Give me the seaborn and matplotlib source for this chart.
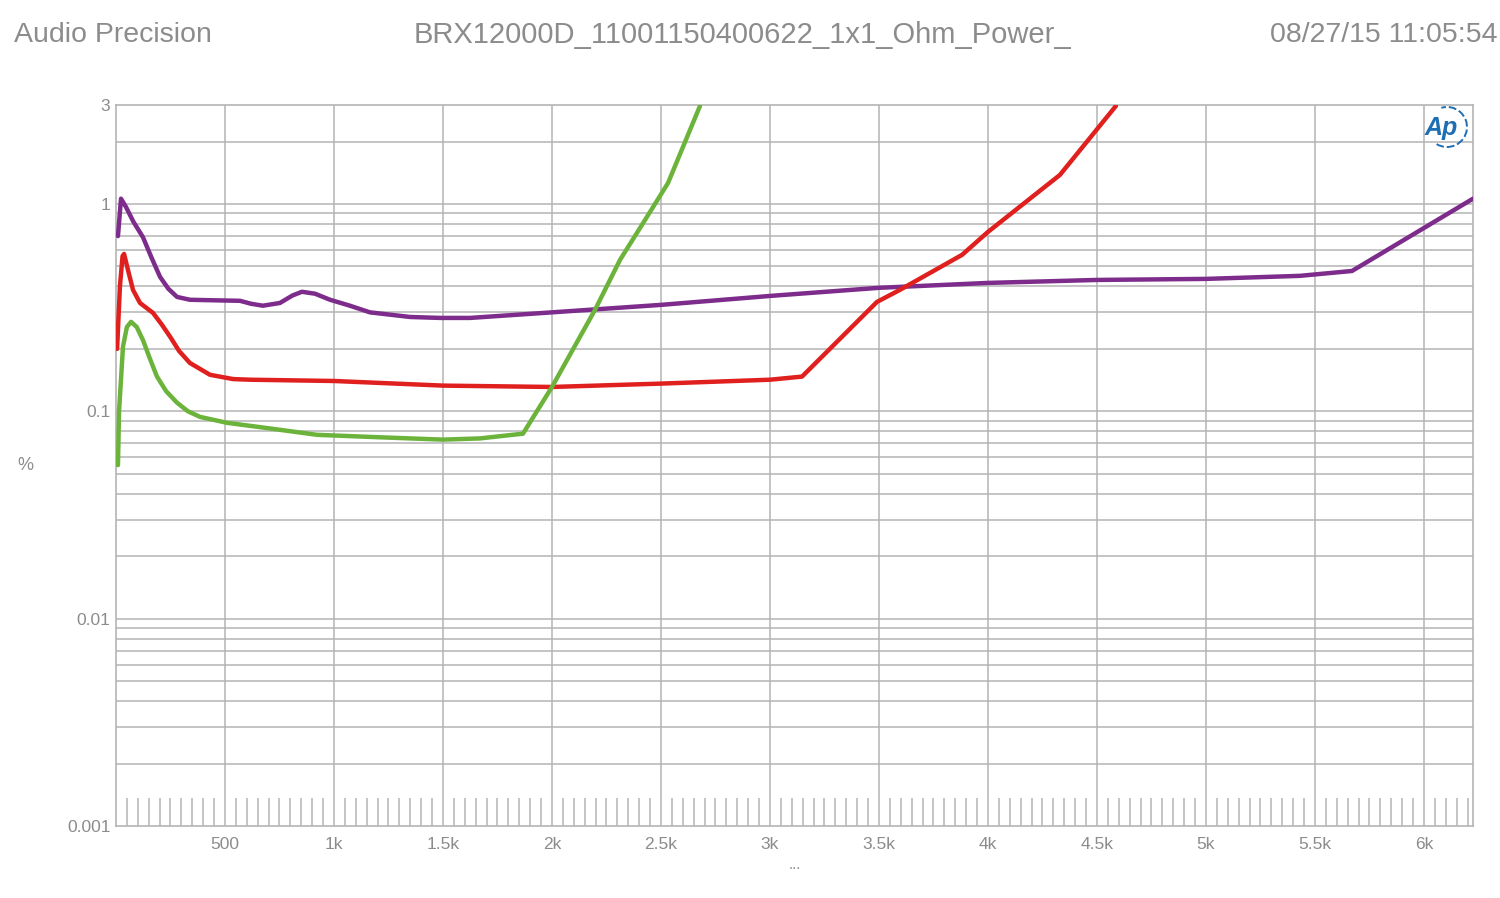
import numpy as np
import pandas as pd
import matplotlib
matplotlib.use("Agg")
import matplotlib.pyplot as plt
from matplotlib.patches import Arc
import seaborn as sns

# values (x = output power, y = THD+N in %)
purple_x = [9, 23, 45, 80, 124, 160, 202, 240, 280, 339, 450, 569, 620, 674,
            752, 810, 853, 913, 982, 1073, 1165, 1349, 1486, 1624, 2000, 2500,
            3000, 3500, 4000, 4500, 5000, 5431, 5670, 6225]
purple_y = [0.70, 1.06, 0.97, 0.82, 0.69, 0.56, 0.445, 0.39, 0.356, 0.345,
            0.343, 0.341, 0.33, 0.323, 0.333, 0.362, 0.377, 0.369, 0.345, 0.323,
            0.30, 0.285, 0.282, 0.282, 0.30, 0.326, 0.36, 0.394, 0.416, 0.43,
            0.435, 0.45, 0.475, 1.06]

red_x = [5, 18, 30, 37, 55, 78, 110, 170, 210, 248, 290, 339, 431, 537, 615,
         1000, 1500, 2000, 2500, 3000, 3147, 3491, 3596, 3881, 4000, 4330, 4587]
red_y = [0.20, 0.40, 0.56, 0.574, 0.48, 0.385, 0.333, 0.298, 0.262, 0.229,
         0.195, 0.171, 0.15, 0.143, 0.142, 0.14, 0.133, 0.131, 0.136, 0.142,
         0.147, 0.337, 0.385, 0.568, 0.733, 1.38, 2.97]

green_x = [9, 14, 32, 50, 69, 95, 124, 155, 188, 230, 280, 330, 385, 509, 693,
           922, 1200, 1500, 1670, 1867, 2000, 2197, 2312, 2404, 2532, 2679]
green_y = [0.055, 0.10, 0.205, 0.255, 0.27, 0.255, 0.22, 0.18, 0.147, 0.125,
           0.11, 0.10, 0.094, 0.088, 0.083, 0.077, 0.075, 0.073, 0.074, 0.078,
           0.131, 0.308, 0.537, 0.766, 1.26, 2.97]

x_ticks = [500, 1000, 1500, 2000, 2500, 3000, 3500, 4000, 4500, 5000, 5500, 6000]
x_tick_labels = ["500", "1k", "1.5k", "2k", "2.5k", "3k", "3.5k", "4k", "4.5k",
                 "5k", "5.5k", "6k"]
y_ticks = [0.001, 0.01, 0.1, 1, 3]
y_tick_labels = ["0.001", "0.01", "0.1", "1", "3"]

sns.set_theme(style="white")
plt.rcParams['font.family'] = ['Liberation Sans', 'DejaVu Sans']

df = pd.concat([
    pd.DataFrame({"power": purple_x, "thd": purple_y, "ch": "purple"}),
    pd.DataFrame({"power": red_x, "thd": red_y, "ch": "red"}),
    pd.DataFrame({"power": green_x, "thd": green_y, "ch": "green"}),
])
palette = {"purple": "#7d2c8c", "red": "#e0201e", "green": "#6cb33c"}

grey = "#8c8c8c"
grid_c = "#b4b4b4"

fig = plt.figure(figsize=(15, 8.98), dpi=100)
ax = fig.add_axes([116 / 1500, 1 - 826 / 898, (1473 - 116) / 1500, (826 - 105) / 898])

ax.set_yscale("log")
ax.set_xlim(0, 6225)
ax.set_ylim(0.001, 3)

sns.lineplot(data=df, x="power", y="thd", hue="ch", palette=palette,
             sort=False, estimator=None, legend=False, linewidth=3.2, ax=ax,
             zorder=3)

# grid: vertical at every 500, horizontal at every log minor step
for xv in x_ticks:
    ax.axvline(xv, color=grid_c, lw=1.1, zorder=1)
for dec in [0.001, 0.01, 0.1, 1]:
    for m in range(1, 10):
        v = dec * m
        if 0.001 < v < 3:
            ax.axhline(v, color=grid_c, lw=1.1, zorder=1)

for s in ax.spines.values():
    s.set_color(grid_c)
    s.set_linewidth(1.2)

ax.set_xticks(x_ticks)
ax.set_xticklabels(x_tick_labels)
ax.set_xticks(np.arange(50, 6225, 50), minor=True)
ax.tick_params(axis="x", which="major", length=0, pad=8, labelsize=12.5, labelcolor=grey)
ax.tick_params(axis="x", which="minor", direction="in", length=20, width=1.1,
               color=grid_c, bottom=True)

ax.set_yticks(y_ticks)
ax.set_yticklabels(y_tick_labels)
ax.yaxis.set_minor_locator(matplotlib.ticker.NullLocator())
ax.tick_params(axis="y", which="major", length=0, pad=4, labelsize=12.5, labelcolor=grey)

ax.set_xlabel("...", color=grey, fontsize=11, labelpad=4)
ax.set_ylabel("")
fig.text(25 / 1500, 1 - 466 / 898, "%", color=grey, fontsize=13, ha="center", va="center")

# header
fig.text(14 / 1500, 1 - 35 / 898, "Audio Precision", color=grey, fontsize=20.5, va="center")
fig.text(742 / 1500, 1 - 35 / 898, "BRX12000D_11001150400622_1x1_Ohm_Power_", color=grey,
         fontsize=21, va="center", ha="center")
fig.text(1498 / 1500, 1 - 35 / 898, "08/27/15 11:05:54", color=grey, fontsize=20.5,
         va="center", ha="right")

# Ap logo
fig.text(1441 / 1500, 1 - 128 / 898, "Ap", color="#1e6eb4", fontsize=18,
         fontstyle="italic", fontweight="bold", ha="center", va="center")
fig.add_artist(Arc((1447 / 1500, 1 - 127 / 898), 40 / 1500, 40 / 898, theta1=-110,
                   theta2=100, color="#1e6eb4", lw=1.4, ls=(0, (4, 1.5)),
                   transform=fig.transFigure))

fig.savefig("out.png", dpi=100, facecolor="white")
